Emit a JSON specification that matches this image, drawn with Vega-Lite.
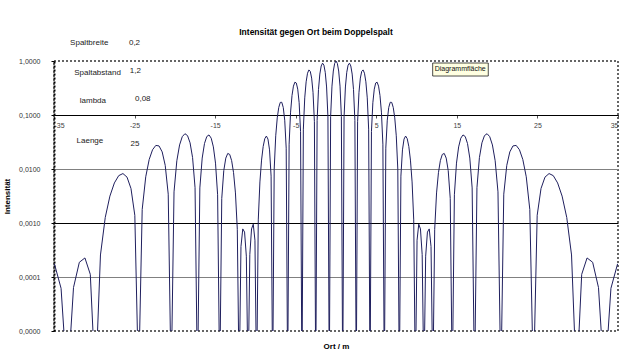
{
  "$schema": "https://vega.github.io/schema/vega-lite/v6.json",
  "width": 564,
  "height": 270,
  "autosize": {"type": "none"},
  "padding": {"left": 54, "top": 61, "right": 14, "bottom": 28},
  "background": "white",
  "title": {"text": "Intensität gegen Ort beim Doppelspalt", "fontSize": 8.5, "fontWeight": "bold", "font": "Liberation Sans", "color": "black", "anchor": "middle", "dx": -20, "offset": 2},
  "config": {"view": {"stroke": "#333", "strokeDash": [2, 2], "strokeWidth": 1.5}, "font": "Liberation Sans"},
  "datasets": {
    "curve": [
      {"ort": -34.9494, "I": 0.0001753}, {"ort": -34.1228, "I": 0.0000617}, {"ort": -33.3333, "I": 0.000001}, {"ort": -32.5782, "I": 0.0000638}, {"ort": -31.855, "I": 0.0001873}, {"ort": -31.1611, "I": 0.0002253}, {"ort": -30.4942, "I": 0.0001119}, {"ort": -29.8528, "I": 0.000001}, {"ort": -29.2342, "I": 0.000256}, {"ort": -28.6377, "I": 0.001268}, {"ort": -28.0614, "I": 0.003149}, {"ort": -27.505, "I": 0.005519}, {"ort": -26.9659, "I": 0.007536}, {"ort": -26.4438, "I": 0.008237}, {"ort": -25.9376, "I": 0.007071}, {"ort": -25.4456, "I": 0.004359}, {"ort": -24.9685, "I": 0.001388}, {"ort": -24.5049, "I": 0.000001}, {"ort": -24.0534, "I": 0.001779}, {"ort": -23.6139, "I": 0.007174}, {"ort": -23.1857, "I": 0.01502}, {"ort": -22.768, "I": 0.02275}, {"ort": -22.3607, "I": 0.02736}, {"ort": -21.9631, "I": 0.02672}, {"ort": -21.5742, "I": 0.02075}, {"ort": -21.1948, "I": 0.01167}, {"ort": -20.8232, "I": 0.003419}, {"ort": -20.4596, "I": 0.000001}, {"ort": -20.1039, "I": 0.003772}, {"ort": -19.7552, "I": 0.01421}, {"ort": -19.4136, "I": 0.0279}, {"ort": -19.0788, "I": 0.03973}, {"ort": -18.75, "I": 0.04503}, {"ort": -18.4274, "I": 0.04154}, {"ort": -18.1109, "I": 0.03049}, {"ort": -17.7999, "I": 0.01624}, {"ort": -17.4941, "I": 0.004506}, {"ort": -17.1935, "I": 0.000001}, {"ort": -16.898, "I": 0.004465}, {"ort": -16.6073, "I": 0.01594}, {"ort": -16.3214, "I": 0.02963}, {"ort": -16.0397, "I": 0.03992}, {"ort": -15.762, "I": 0.04275}, {"ort": -15.4887, "I": 0.03718}, {"ort": -15.2195, "I": 0.02568}, {"ort": -14.9539, "I": 0.01284}, {"ort": -14.692, "I": 0.003331}, {"ort": -14.4338, "I": 0.000001}, {"ort": -14.1788, "I": 0.002848}, {"ort": -13.9271, "I": 0.009366}, {"ort": -13.6789, "I": 0.01591}, {"ort": -13.4334, "I": 0.01941}, {"ort": -13.1911, "I": 0.01861}, {"ort": -12.9516, "I": 0.01428}, {"ort": -12.7148, "I": 0.008541}, {"ort": -12.4808, "I": 0.003605}, {"ort": -12.2495, "I": 0.0007636}, {"ort": -12.0204, "I": 0.000001}, {"ort": -11.794, "I": 0.0003676}, {"ort": -11.5699, "I": 0.000777}, {"ort": -11.3481, "I": 0.0006786}, {"ort": -11.1284, "I": 0.0002429}, {"ort": -10.9109, "I": 0.000001}, {"ort": -10.6955, "I": 0.0002596}, {"ort": -10.4819, "I": 0.0007754}, {"ort": -10.2704, "I": 0.0009492}, {"ort": -10.0608, "I": 0.0004802}, {"ort": -9.8529, "I": 0.000001}, {"ort": -9.6468, "I": 0.001141}, {"ort": -9.4424, "I": 0.005762}, {"ort": -9.2397, "I": 0.01461}, {"ort": -9.0385, "I": 0.02614}, {"ort": -8.8388, "I": 0.03648}, {"ort": -8.6407, "I": 0.04076}, {"ort": -8.444, "I": 0.0358}, {"ort": -8.2487, "I": 0.02259}, {"ort": -8.0548, "I": 0.007371}, {"ort": -7.8621, "I": 0.000001}, {"ort": -7.6707, "I": 0.009937}, {"ort": -7.4806, "I": 0.04116}, {"ort": -7.2917, "I": 0.08858}, {"ort": -7.1039, "I": 0.138}, {"ort": -6.9171, "I": 0.171}, {"ort": -6.7315, "I": 0.1722}, {"ort": -6.5469, "I": 0.138}, {"ort": -6.3633, "I": 0.08023}, {"ort": -6.1806, "I": 0.02431}, {"ort": -5.9988, "I": 0.000001}, {"ort": -5.8181, "I": 0.02883}, {"ort": -5.6381, "I": 0.1129}, {"ort": -5.459, "I": 0.2306}, {"ort": -5.2807, "I": 0.3424}, {"ort": -5.1031, "I": 0.4053}, {"ort": -4.9262, "I": 0.3912}, {"ort": -4.7502, "I": 0.3012}, {"ort": -4.5747, "I": 0.1686}, {"ort": -4.4, "I": 0.0493}, {"ort": -4.2258, "I": 0.000001}, {"ort": -4.0522, "I": 0.0547}, {"ort": -3.8792, "I": 0.2076}, {"ort": -3.7068, "I": 0.4116}, {"ort": -3.5348, "I": 0.5939}, {"ort": -3.3634, "I": 0.6839}, {"ort": -3.1923, "I": 0.6428}, {"ort": -3.0218, "I": 0.4823}, {"ort": -2.8517, "I": 0.2634}, {"ort": -2.682, "I": 0.07515}, {"ort": -2.5126, "I": 0.000001}, {"ort": -2.3436, "I": 0.07957}, {"ort": -2.1748, "I": 0.2953}, {"ort": -2.0064, "I": 0.5728}, {"ort": -1.8383, "I": 0.8088}, {"ort": -1.6704, "I": 0.9119}, {"ort": -1.5027, "I": 0.8395}, {"ort": -1.3352, "I": 0.6171}, {"ort": -1.1679, "I": 0.3303}, {"ort": -1.0008, "I": 0.0924}, {"ort": -0.8338, "I": 0.000001}, {"ort": -0.6669, "I": 0.09411}, {"ort": -0.5001, "I": 0.3427}, {"ort": -0.3334, "I": 0.6521}, {"ort": -0.1667, "I": 0.9037},
      {"ort": 0, "I": 1},
      {"ort": 0.1667, "I": 0.9037}, {"ort": 0.3334, "I": 0.6521}, {"ort": 0.5001, "I": 0.3427}, {"ort": 0.6669, "I": 0.09411}, {"ort": 0.8338, "I": 0.000001}, {"ort": 1.0008, "I": 0.0924}, {"ort": 1.1679, "I": 0.3303}, {"ort": 1.3352, "I": 0.6171}, {"ort": 1.5027, "I": 0.8395}, {"ort": 1.6704, "I": 0.9119}, {"ort": 1.8383, "I": 0.8088}, {"ort": 2.0064, "I": 0.5728}, {"ort": 2.1748, "I": 0.2953}, {"ort": 2.3436, "I": 0.07957}, {"ort": 2.5126, "I": 0.000001}, {"ort": 2.682, "I": 0.07515}, {"ort": 2.8517, "I": 0.2634}, {"ort": 3.0218, "I": 0.4823}, {"ort": 3.1923, "I": 0.6428}, {"ort": 3.3634, "I": 0.6839}, {"ort": 3.5348, "I": 0.5939}, {"ort": 3.7068, "I": 0.4116}, {"ort": 3.8792, "I": 0.2076}, {"ort": 4.0522, "I": 0.0547}, {"ort": 4.2258, "I": 0.000001}, {"ort": 4.4, "I": 0.0493}, {"ort": 4.5747, "I": 0.1686}, {"ort": 4.7502, "I": 0.3012}, {"ort": 4.9262, "I": 0.3912}, {"ort": 5.1031, "I": 0.4053}, {"ort": 5.2807, "I": 0.3424}, {"ort": 5.459, "I": 0.2306}, {"ort": 5.6381, "I": 0.1129}, {"ort": 5.8181, "I": 0.02883}, {"ort": 5.9988, "I": 0.000001}, {"ort": 6.1806, "I": 0.02431}, {"ort": 6.3633, "I": 0.08023}, {"ort": 6.5469, "I": 0.138}, {"ort": 6.7315, "I": 0.1722}, {"ort": 6.9171, "I": 0.171}, {"ort": 7.1039, "I": 0.138}, {"ort": 7.2917, "I": 0.08858}, {"ort": 7.4806, "I": 0.04116}, {"ort": 7.6707, "I": 0.009937}, {"ort": 7.8621, "I": 0.000001}, {"ort": 8.0548, "I": 0.007371}, {"ort": 8.2487, "I": 0.02259}, {"ort": 8.444, "I": 0.0358}, {"ort": 8.6407, "I": 0.04076}, {"ort": 8.8388, "I": 0.03648}, {"ort": 9.0385, "I": 0.02614}, {"ort": 9.2397, "I": 0.01461}, {"ort": 9.4424, "I": 0.005762}, {"ort": 9.6468, "I": 0.001141}, {"ort": 9.8529, "I": 0.000001}, {"ort": 10.0608, "I": 0.0004802}, {"ort": 10.2704, "I": 0.0009492}, {"ort": 10.4819, "I": 0.0007754}, {"ort": 10.6955, "I": 0.0002596}, {"ort": 10.9109, "I": 0.000001}, {"ort": 11.1284, "I": 0.0002429}, {"ort": 11.3481, "I": 0.0006786}, {"ort": 11.5699, "I": 0.000777}, {"ort": 11.794, "I": 0.0003676}, {"ort": 12.0204, "I": 0.000001}, {"ort": 12.2495, "I": 0.0007636}, {"ort": 12.4808, "I": 0.003605}, {"ort": 12.7148, "I": 0.008541}, {"ort": 12.9516, "I": 0.01428}, {"ort": 13.1911, "I": 0.01861}, {"ort": 13.4334, "I": 0.01941}, {"ort": 13.6789, "I": 0.01591}, {"ort": 13.9271, "I": 0.009366}, {"ort": 14.1788, "I": 0.002848}, {"ort": 14.4338, "I": 0.000001}, {"ort": 14.692, "I": 0.003331}, {"ort": 14.9539, "I": 0.01284}, {"ort": 15.2195, "I": 0.02568}, {"ort": 15.4887, "I": 0.03718}, {"ort": 15.762, "I": 0.04275}, {"ort": 16.0397, "I": 0.03992}, {"ort": 16.3214, "I": 0.02963}, {"ort": 16.6073, "I": 0.01594}, {"ort": 16.898, "I": 0.004465}, {"ort": 17.1935, "I": 0.000001}, {"ort": 17.4941, "I": 0.004506}, {"ort": 17.7999, "I": 0.01624}, {"ort": 18.1109, "I": 0.03049}, {"ort": 18.4274, "I": 0.04154}, {"ort": 18.75, "I": 0.04503}, {"ort": 19.0788, "I": 0.03973}, {"ort": 19.4136, "I": 0.0279}, {"ort": 19.7552, "I": 0.01421}, {"ort": 20.1039, "I": 0.003772}, {"ort": 20.4596, "I": 0.000001}, {"ort": 20.8232, "I": 0.003419}, {"ort": 21.1948, "I": 0.01167}, {"ort": 21.5742, "I": 0.02075}, {"ort": 21.9631, "I": 0.02672}, {"ort": 22.3607, "I": 0.02736}, {"ort": 22.768, "I": 0.02275}, {"ort": 23.1857, "I": 0.01502}, {"ort": 23.6139, "I": 0.007174}, {"ort": 24.0534, "I": 0.001779}, {"ort": 24.5049, "I": 0.000001}, {"ort": 24.9685, "I": 0.001388}, {"ort": 25.4456, "I": 0.004359}, {"ort": 25.9376, "I": 0.007071}, {"ort": 26.4438, "I": 0.008237}, {"ort": 26.9659, "I": 0.007536}, {"ort": 27.505, "I": 0.005519}, {"ort": 28.0614, "I": 0.003149}, {"ort": 28.6377, "I": 0.001268}, {"ort": 29.2342, "I": 0.000256}, {"ort": 29.8528, "I": 0.000001}, {"ort": 30.4942, "I": 0.0001119}, {"ort": 31.1611, "I": 0.0002253}, {"ort": 31.855, "I": 0.0001873}, {"ort": 32.5782, "I": 0.0000638}, {"ort": 33.3333, "I": 0.000001}, {"ort": 34.1228, "I": 0.0000617}, {"ort": 34.9494, "I": 0.0001753}
    ]
  },
  "layer": [
    {
      "data": {"name": "curve"},
      "mark": {"type": "line", "color": "#1f1f5e", "strokeWidth": 1, "clip": true},
      "encoding": {
        "x": {
          "field": "ort", "type": "quantitative",
          "scale": {"domain": [-35, 35], "nice": false, "zero": false},
          "axis": {
            "values": [-35, -25, -15, -5, 5, 15, 25, 35], "offset": -216,
            "labelExpr": "(datum.value < 0 ? '-' : '') + abs(datum.value)",
            "domainColor": "black", "domainWidth": 1, "tickColor": "#555", "tickSize": 3,
            "labelFontSize": 7, "labelColor": "#444", "labelPadding": 3, "grid": false,
            "title": "Ort / m", "titleFontSize": 8, "titleFontWeight": "bold", "titleColor": "black",
            "titleY": 231, "titleBaseline": "middle"
          }
        },
        "y": {
          "field": "I", "type": "quantitative",
          "scale": {"type": "log", "domain": [0.00001, 1], "nice": false},
          "axis": {
            "values": [0.00001, 0.0001, 0.001, 0.01, 0.1, 1],
            "labelExpr": "replace(format(datum.value, '.4f'), '.', ',')",
            "labelFontSize": 7, "labelColor": "#333", "labelPadding": 11,
            "tickSize": 3, "tickColor": "black",
            "domainColor": "black", "domainDash": [2, 2], "domainWidth": 2,
            "grid": true,
            "gridColor": {"condition": {"test": "datum.value == 0.001 || datum.value == 0.1", "value": "black"}, "value": "#808080"},
            "gridOpacity": {"condition": {"test": "datum.value >= 1 || datum.value <= 0.00001", "value": 0}, "value": 1},
            "title": "Intensität", "titleFontSize": 8, "titleFontWeight": "bold", "titleColor": "black", "titlePadding": 7
          }
        }
      }
    },
    {"data": {"values": [{}]}, "mark": {"type": "text", "align": "left", "baseline": "middle", "fontSize": 8, "color": "#222"}, "encoding": {"x": {"datum": -33.0}, "y": {"datum": 2.18}, "text": {"value": "Spaltbreite"}}},
    {"data": {"values": [{}]}, "mark": {"type": "text", "align": "left", "baseline": "middle", "fontSize": 8, "color": "#222"}, "encoding": {"x": {"datum": -25.7}, "y": {"datum": 2.18}, "text": {"value": "0,2"}}},
    {"data": {"values": [{}]}, "mark": {"type": "text", "align": "left", "baseline": "middle", "fontSize": 8, "color": "#222"}, "encoding": {"x": {"datum": -32.5}, "y": {"datum": 0.592}, "text": {"value": "Spaltabstand"}}},
    {"data": {"values": [{}]}, "mark": {"type": "text", "align": "left", "baseline": "middle", "fontSize": 8, "color": "#222"}, "encoding": {"x": {"datum": -25.6}, "y": {"datum": 0.661}, "text": {"value": "1,2"}}},
    {"data": {"values": [{}]}, "mark": {"type": "text", "align": "left", "baseline": "middle", "fontSize": 8, "color": "#222"}, "encoding": {"x": {"datum": -31.8}, "y": {"datum": 0.182}, "text": {"value": "lambda"}}},
    {"data": {"values": [{}]}, "mark": {"type": "text", "align": "left", "baseline": "middle", "fontSize": 8, "color": "#222"}, "encoding": {"x": {"datum": -24.95}, "y": {"datum": 0.198}, "text": {"value": "0,08"}}},
    {"data": {"values": [{}]}, "mark": {"type": "text", "align": "left", "baseline": "middle", "fontSize": 8, "color": "#222"}, "encoding": {"x": {"datum": -32.2}, "y": {"datum": 0.033}, "text": {"value": "Laenge"}}},
    {"data": {"values": [{}]}, "mark": {"type": "text", "align": "left", "baseline": "middle", "fontSize": 8, "color": "#222"}, "encoding": {"x": {"datum": -25.5}, "y": {"datum": 0.029}, "text": {"value": "25"}}},
    {"data": {"values": [{}]}, "mark": {"type": "rect", "fill": "#ffffe1", "stroke": "black", "strokeWidth": 0.7}, "encoding": {"x": {"datum": 12.0}, "x2": {"datum": 18.9}, "y": {"datum": 0.918}, "y2": {"datum": 0.527}}},
    {"data": {"values": [{}]}, "mark": {"type": "text", "align": "left", "baseline": "middle", "fontSize": 7, "color": "#111"}, "encoding": {"x": {"datum": 12.25}, "y": {"datum": 0.70}, "text": {"value": "Diagrammfläche"}}}
  ]
}
